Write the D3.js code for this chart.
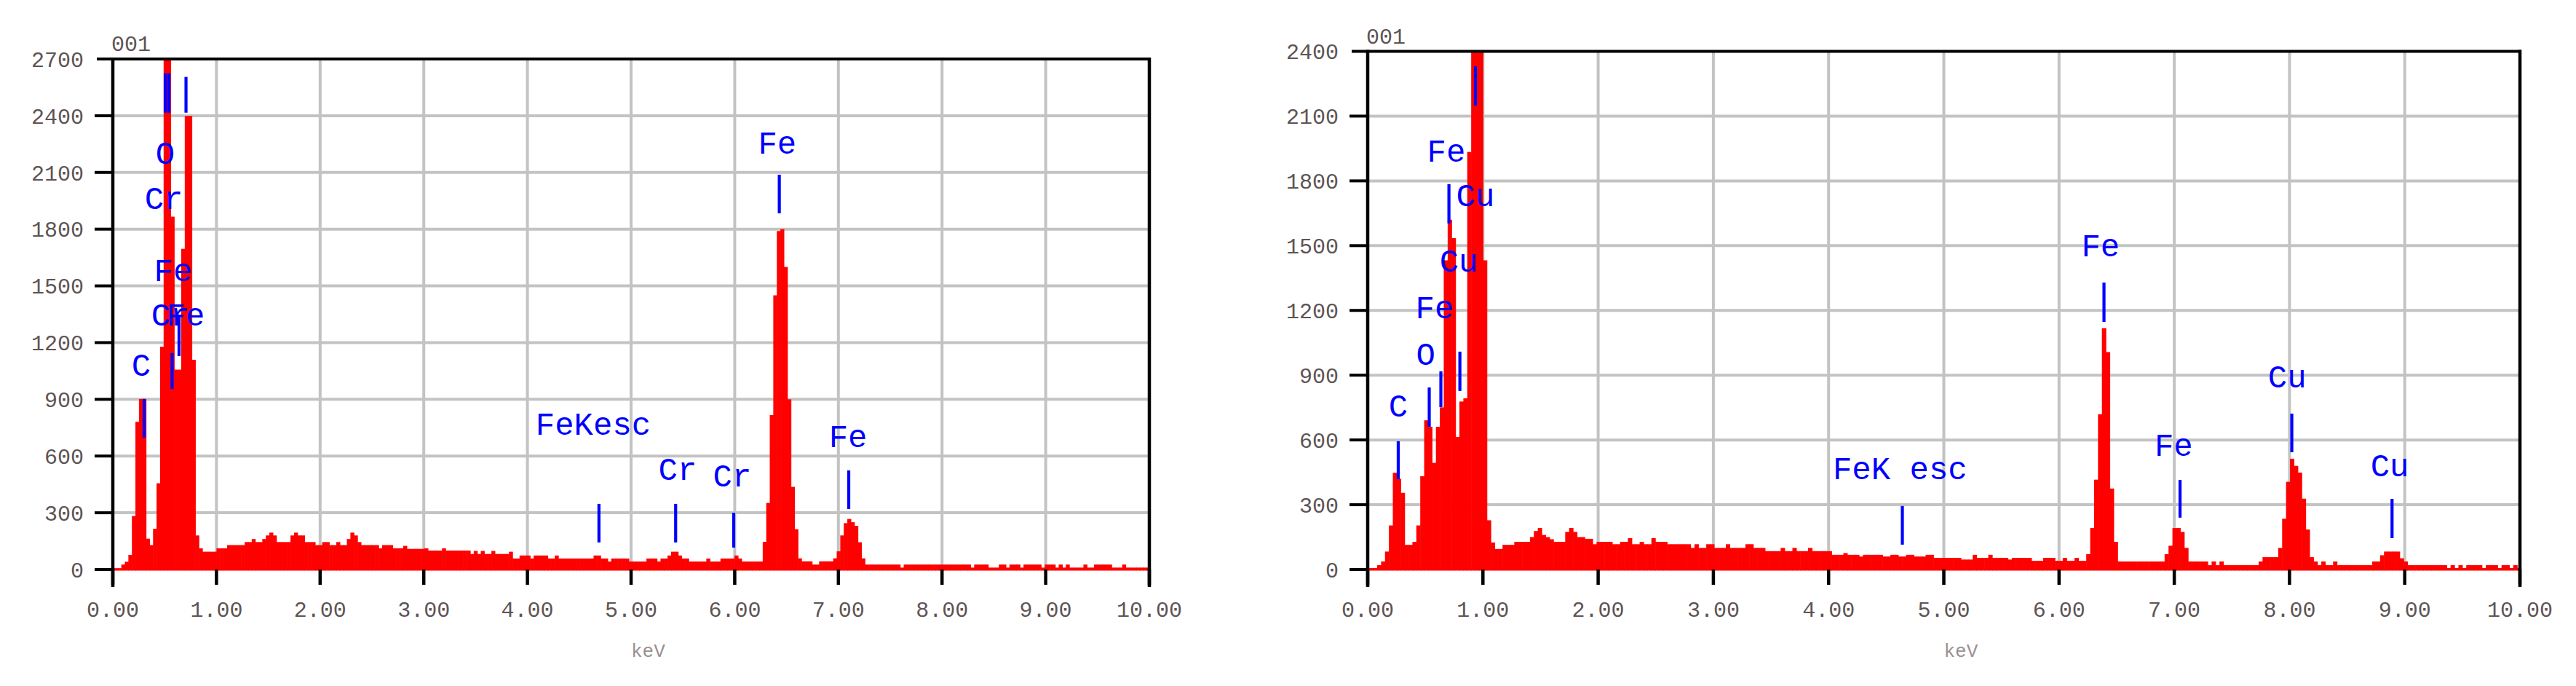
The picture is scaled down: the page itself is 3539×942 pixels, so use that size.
<!DOCTYPE html>
<html><head><meta charset="utf-8">
<script src="https://cdn.jsdelivr.net/npm/d3@7"></script>
<style>html,body{margin:0;padding:0;background:#fff;}svg{display:block;}</style>
</head><body>
<svg id="chart" width="3539" height="942"></svg>
<script>
// ---- calibration of the spectrum channels (keV) ----
const channelStart = -0.02;
const channelWidth = 0.034;

// ---- axis ticks ----
const xTicks = [0, 1, 2, 3, 4, 5, 6, 7, 8, 9, 10];
const leftYTicks = [0, 300, 600, 900, 1200, 1500, 1800, 2100, 2400, 2700];
const rightYTicks = [0, 300, 600, 900, 1200, 1500, 1800, 2100, 2400];

// ---- spectrum counts, one value per channel ----
const leftCounts = [
  5, 7, 7, 26, 41, 77, 283, 781, 902, 902,
  163, 129, 215, 456, 1178, 2760, 2760, 1866, 1057, 1057,
  1696, 2399, 2399, 1109, 180, 112, 94, 94, 94, 94,
  112, 112, 112, 129, 129, 129, 129, 129, 145, 145,
  161, 145, 145, 161, 180, 195, 180, 145, 145, 145,
  145, 180, 195, 180, 180, 145, 145, 145, 129, 129,
  145, 145, 129, 129, 145, 129, 129, 161, 195, 180,
  145, 129, 129, 129, 129, 129, 112, 129, 129, 129,
  112, 112, 112, 125, 109, 109, 109, 109, 109, 112,
  100, 100, 100, 100, 112, 100, 100, 100, 100, 100,
  100, 100, 82, 98, 82, 98, 82, 82, 98, 82,
  82, 82, 82, 94, 58, 58, 74, 74, 74, 58,
  74, 74, 74, 74, 58, 58, 74, 58, 58, 58,
  58, 58, 58, 58, 58, 58, 58, 74, 74, 58,
  58, 42, 58, 58, 58, 58, 58, 42, 42, 42,
  42, 42, 58, 58, 58, 42, 58, 58, 74, 94,
  94, 74, 58, 58, 42, 42, 42, 42, 42, 58,
  42, 42, 42, 58, 58, 58, 58, 74, 58, 42,
  42, 42, 42, 42, 42, 146, 352, 817, 1450, 1790,
  1800, 1600, 900, 437, 213, 59, 43, 43, 43, 26,
  26, 43, 43, 43, 43, 59, 96, 180, 245, 267,
  250, 231, 144, 59, 26, 26, 26, 26, 26, 26,
  26, 26, 26, 26, 10, 26, 26, 26, 26, 26,
  26, 26, 26, 26, 26, 26, 26, 26, 26, 26,
  26, 26, 26, 26, 10, 26, 26, 26, 26, 10,
  10, 10, 26, 26, 10, 26, 26, 26, 10, 26,
  26, 26, 26, 26, 10, 26, 26, 26, 10, 26,
  10, 26, 10, 10, 10, 10, 26, 10, 10, 26,
  26, 26, 26, 26, 10, 10, 10, 26, 10, 10,
  10, 10, 10, 10, 10
];
const rightCounts = [
  3, 7, 7, 20, 37, 83, 204, 448, 420, 355,
  114, 114, 128, 204, 432, 691, 661, 494, 661, 751,
  1432, 1620, 1535, 614, 778, 793, 1934, 2500, 2500, 2500,
  1432, 228, 125, 95, 95, 114, 114, 114, 128, 128,
  128, 128, 150, 178, 192, 160, 150, 140, 128, 128,
  128, 174, 192, 174, 150, 150, 142, 142, 117, 128,
  128, 128, 128, 117, 117, 128, 128, 145, 117, 117,
  128, 117, 117, 145, 128, 128, 128, 117, 117, 117,
  117, 117, 117, 100, 117, 100, 100, 117, 117, 100,
  100, 100, 117, 100, 100, 100, 100, 117, 117, 100,
  100, 100, 85, 85, 85, 85, 100, 85, 85, 100,
  85, 85, 85, 100, 85, 85, 85, 85, 85, 68,
  68, 68, 76, 68, 68, 68, 60, 68, 68, 68,
  68, 68, 60, 60, 68, 68, 60, 60, 68, 68,
  60, 60, 60, 68, 68, 54, 54, 54, 54, 54,
  54, 54, 46, 46, 46, 68, 54, 54, 54, 68,
  54, 54, 54, 54, 46, 54, 54, 54, 54, 54,
  40, 40, 40, 54, 54, 54, 40, 40, 54, 40,
  40, 54, 40, 40, 71, 192, 416, 719, 1118, 1007,
  375, 128, 37, 37, 37, 37, 37, 37, 37, 37,
  37, 37, 37, 37, 71, 110, 192, 192, 174, 100,
  37, 37, 37, 37, 37, 20, 37, 20, 37, 20,
  20, 20, 20, 20, 20, 20, 20, 20, 37, 57,
  57, 57, 57, 100, 235, 406, 513, 480, 449, 328,
  185, 57, 37, 20, 37, 20, 20, 37, 20, 20,
  20, 20, 20, 20, 20, 20, 20, 37, 37, 66,
  83, 83, 83, 83, 52, 37, 20, 20, 20, 20,
  20, 20, 20, 20, 20, 20, 7, 20, 7, 20,
  7, 20, 20, 20, 20, 7, 20, 20, 20, 7,
  20, 20, 7, 20, 7
];

// ---- element marker lines: [energy keV, top count, bottom count] ----
const leftLines = [
  [0.302, 902, 697], [0.506, 2624, 2416], [0.541, 2624, 2416], [0.572, 1144, 955],
  [0.639, 1345, 1129], [0.706, 2605, 2416], [4.69, 347, 143], [5.43, 347, 143],
  [5.99, 300, 116], [6.43, 2088, 1884], [7.10, 524, 320]
];
const rightLines = [
  [0.265, 594, 418], [0.534, 843, 661], [0.635, 918, 752], [0.705, 1785, 1603],
  [0.80, 1009, 827], [0.935, 2331, 2149], [4.64, 294, 115], [6.39, 1329, 1147],
  [7.05, 415, 240], [8.02, 722, 543], [8.89, 327, 145]
];
// ---- element labels: [text, centre energy keV, baseline count] ----
const leftLabels = [
  ["C", 0.274, 1025], ["O", 0.506, 2146], ["Cr", 0.492, 1907], ["Fe", 0.583, 1526],
  ["Cr", 0.555, 1291], ["Fe", 0.702, 1291], ["FeKesc", 4.635, 713], ["Cr", 5.449, 474],
  ["Cr", 5.976, 439], ["Fe", 6.41, 2200], ["Fe", 7.093, 647]
];
const rightLabels = [
  ["C", 0.265, 709], ["O", 0.504, 948], ["Fe", 0.581, 1164], ["Cu", 0.79, 1380],
  ["Cu", 0.935, 1684], ["Fe", 0.682, 1889], ["FeK esc", 4.62, 418], ["Fe", 6.36, 1451],
  ["Fe", 6.995, 526], ["Cu", 7.98, 844], ["Cu", 8.87, 432]
];
const panelTitle = "001";
const axisTitle = "keV";

// ---- layout ----
const panels = [
  {counts: leftCounts, lines: leftLines, labels: leftLabels, yTicks: leftYTicks,
   x0: 155, x1: 1579, yTop: 81, yBase: 782},
  {counts: rightCounts, lines: rightLines, labels: rightLabels, yTicks: rightYTicks,
   x0: 1879, x1: 3462, yTop: 70.5, yBase: 782}
];

const svg = d3.select("#chart");
const tickFont = "'Liberation Mono', 'Courier New', monospace";
const tickColor = "#5e5454";

panels.forEach((p, pi) => {
  const yMax = d3.max(p.yTicks);
  const x = d3.scaleLinear().domain([0, 10]).range([p.x0, p.x1]);
  const y = d3.scaleLinear().domain([0, yMax]).range([p.yBase, p.yTop]);
  const g = svg.append("g");

  // grid
  g.append("g").selectAll("line").data(xTicks.filter(t => t > 0 && t < 10)).join("line")
    .attr("x1", d => x(d)).attr("x2", d => x(d)).attr("y1", p.yTop).attr("y2", p.yBase)
    .attr("stroke", "#c3c3c3").attr("stroke-width", 4);
  g.append("g").selectAll("line").data(p.yTicks.filter(t => t > 0 && t < yMax)).join("line")
    .attr("x1", p.x0).attr("x2", p.x1).attr("y1", d => y(d)).attr("y2", d => y(d))
    .attr("stroke", "#c3c3c3").attr("stroke-width", 4);

  // spectrum bars
  const clipId = "clip" + pi;
  svg.append("clipPath").attr("id", clipId).append("rect")
    .attr("x", p.x0).attr("y", p.yTop).attr("width", p.x1 - p.x0).attr("height", p.yBase - p.yTop + 2);
  const bins = p.counts.map((c, i) => ({
    lo: Math.max(0, channelStart + i * channelWidth),
    hi: Math.min(10, channelStart + (i + 1) * channelWidth),
    c
  }));
  g.append("g").attr("clip-path", `url(#${clipId})`).selectAll("rect").data(bins).join("rect")
    .attr("x", d => x(d.lo)).attr("width", d => x(d.hi) - x(d.lo) + 0.6)
    .attr("y", d => y(d.c)).attr("height", d => y(0) - y(d.c) + 1.5)
    .attr("fill", "#ff0000");

  // element marker lines
  g.append("g").selectAll("line").data(p.lines).join("line")
    .attr("x1", d => x(d[0])).attr("x2", d => x(d[0]))
    .attr("y1", d => y(d[1])).attr("y2", d => y(d[2]))
    .attr("stroke", "#0000ff").attr("stroke-width", 4.2);

  // element labels
  g.append("g").selectAll("text").data(p.labels).join("text")
    .attr("x", d => x(d[1])).attr("y", d => y(d[2]))
    .attr("text-anchor", "middle")
    .attr("font-family", tickFont).attr("font-size", 44)
    .attr("fill", "#0000ff").text(d => d[0]);

  // axes frame
  const ax = g.append("g").attr("stroke", "#000");
  ax.append("line").attr("x1", p.x0).attr("x2", p.x0).attr("y1", p.yTop - 2).attr("y2", p.yBase + 24).attr("stroke-width", 4.5);
  ax.append("line").attr("x1", p.x1).attr("x2", p.x1).attr("y1", p.yTop - 2).attr("y2", p.yBase + 24).attr("stroke-width", 4.5);
  ax.append("line").attr("x1", p.x0 - 22).attr("x2", p.x1 + 2).attr("y1", p.yTop).attr("y2", p.yTop).attr("stroke-width", 4);
  ax.selectAll(".yt").data(p.yTicks.filter(t => t < yMax)).join("line")
    .attr("x1", p.x0 - 25).attr("x2", p.x0).attr("y1", d => y(d)).attr("y2", d => y(d)).attr("stroke-width", 4);
  ax.selectAll(".xt").data(xTicks).join("line")
    .attr("x1", d => x(d)).attr("x2", d => x(d)).attr("y1", p.yBase).attr("y2", p.yBase + 21).attr("stroke-width", 4.5);

  // tick labels
  g.append("g").selectAll("text").data(p.yTicks).join("text")
    .attr("x", p.x0 - 40).attr("y", d => y(d)).attr("dy", "0.36em")
    .attr("text-anchor", "end").attr("font-family", tickFont).attr("font-size", 30)
    .attr("fill", tickColor).text(d => d);
  g.append("g").selectAll("text").data(xTicks).join("text")
    .attr("x", d => x(d)).attr("y", p.yBase + 65)
    .attr("text-anchor", "middle").attr("font-family", tickFont).attr("font-size", 30)
    .attr("fill", tickColor).text(d => d3.format(".2f")(d));

  // titles
  g.append("text").attr("x", p.x0 - 2).attr("y", p.yTop - 11)
    .attr("font-family", tickFont).attr("font-size", 30).attr("fill", tickColor).text(panelTitle);
  g.append("text").attr("x", (p.x0 + p.x1) / 2).attr("y", 902)
    .attr("font-family", tickFont).attr("font-size", 26).attr("fill", "#9a9090").text(axisTitle);
});
</script>
</body></html>
